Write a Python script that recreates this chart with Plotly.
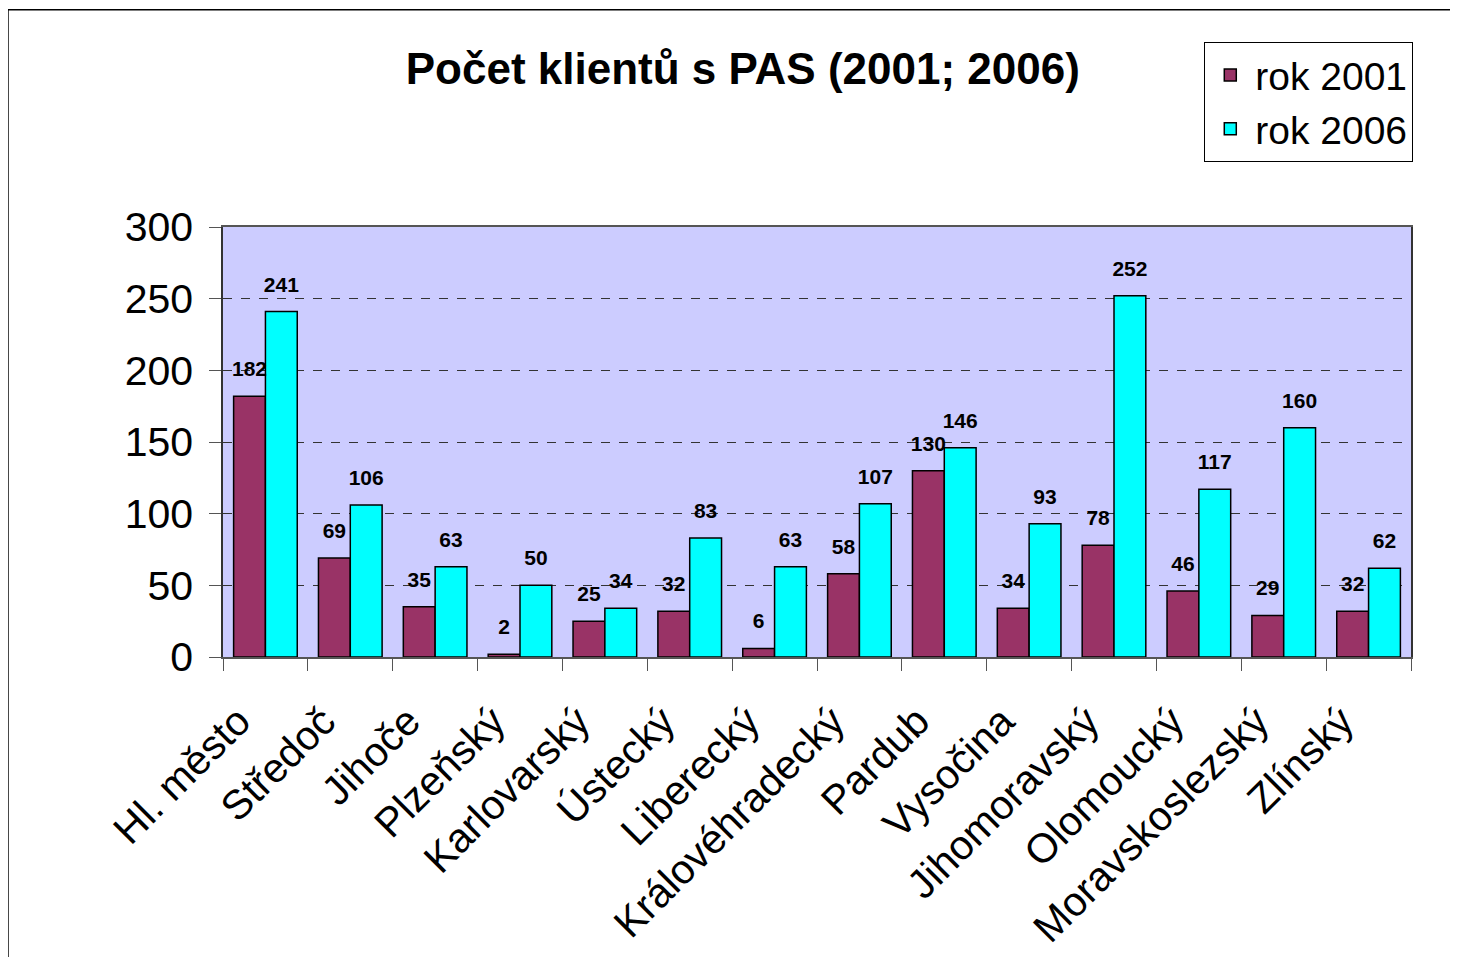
import plotly.graph_objects as go

# kraje (popisky jsou v originale oriznute)
kraje = ["Hl. město", "Středoč", "Jihoče", "Plzeňský", "Karlovarský", "Ústecký",
         "Liberecký", "Královéhradecký", "Pardub", "Vysočina", "Jihomoravský",
         "Olomoucký", "Moravskoslezský", "Zlínský"]

rok_2001 = [182, 69, 35, 2, 25, 32, 6, 58, 130, 34, 78, 46, 29, 32]
rok_2006 = [241, 106, 63, 50, 34, 83, 63, 107, 146, 93, 252, 117, 160, 62]

y_ticks = [0, 50, 100, 150, 200, 250, 300]

FONT = "Liberation Sans, Arial, sans-serif"

fig = go.Figure()

for name, vals, color, grp in [("rok 2001", rok_2001, "#993366", "a"),
                               ("rok 2006", rok_2006, "#00FFFF", "b")]:
    fig.add_trace(go.Bar(
        name=name, x=kraje, y=vals, offsetgroup=grp,
        marker=dict(color=color, line=dict(color="black", width=1.5)),
    ))

# popisky hodnot - pruhledny marker aby byl text trochu nad sloupcem
for vals, grp in [(rok_2001, "a"), (rok_2006, "b")]:
    fig.add_trace(go.Scatter(
        x=kraje, y=vals, offsetgroup=grp, mode="markers+text",
        text=vals, textposition="top center", showlegend=False,
        marker=dict(size=22, opacity=0), cliponaxis=False, hoverinfo="skip",
        textfont=dict(family=FONT, size=21, color="black", weight="bold"),
    ))

# ramecek kolem celeho grafu
fig.add_shape(type="rect", xref="paper", yref="paper",
              x0=-0.181, x1=1.1, y0=-0.75, y1=1.505,
              line=dict(color="black", width=1.5), layer="below")

fig.update_layout(
    width=1458, height=957,
    margin=dict(l=215, r=55, t=219, b=308, autoexpand=False),
    paper_bgcolor="white",
    plot_bgcolor="#CCCCFF",
    font=dict(family=FONT, color="black"),
    title=dict(text="<b>Počet klientů s PAS (2001; 2006)</b>",
               x=0.504, xanchor="center", y=0.937, yanchor="middle",
               font=dict(size=44, family=FONT, color="black")),
    barmode="group", scattermode="group", bargap=0.25, bargroupgap=0,
    showlegend=True,
    legend=dict(x=0.826, y=1.43, xanchor="left", yanchor="top",
                bgcolor="white", bordercolor="black", borderwidth=1,
                font=dict(size=39, family=FONT, color="black"),
                itemwidth=40, tracegroupgap=0),
    xaxis=dict(
        tickangle=-45, tickfont=dict(size=41, family=FONT),
        ticks="outside", tickson="boundaries", ticklen=12,
        ticklabelshift=-27, ticklabelstandoff=22,
        tickcolor="#555", showline=True, linecolor="#555", linewidth=1.5,
        mirror=True, showgrid=False, automargin=False,
    ),
    yaxis=dict(
        range=[0, 300], tickvals=y_ticks, ticktext=[str(v) for v in y_ticks],
        tickfont=dict(size=41, family=FONT),
        ticks="outside", ticklen=12, tickcolor="#555",
        ticklabelstandoff=8,
        showline=True, linecolor="#333", linewidth=1.5, mirror=True,
        showgrid=True, gridcolor="#333", griddash="dash", gridwidth=1,
        zeroline=False, automargin=False,
    ),
)

fig.write_html("out.html")
